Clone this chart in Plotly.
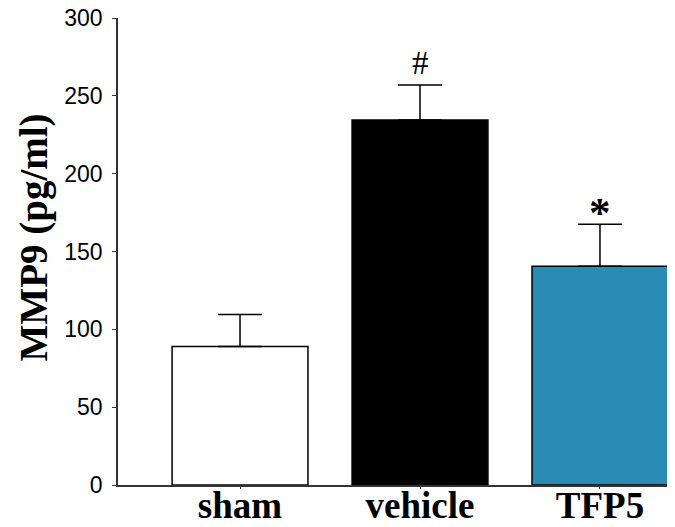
import plotly.graph_objects as go

categories = ["sham", "vehicle", "TFP5"]
means = [89, 234.5, 140.5]
sem = [20.5, 22.5, 27]
colors = ["#ffffff", "#000000", "#2a8cb4"]
marks = ["", "#", "*"]
yticks = [0, 50, 100, 150, 200, 250, 300]

fig = go.Figure()
fig.add_trace(go.Bar(
    x=list(range(len(categories))), y=means,
    width=0.755,
    marker=dict(color=colors, line=dict(color="#000000", width=1.5)),
    error_y=dict(type="data", symmetric=False, array=sem, arrayminus=[0]*len(sem),
                 color="#000000", thickness=1.5, width=22),
    showlegend=False,
))

for i, m in enumerate(marks):
    if m:
        fig.add_annotation(x=i, y=means[i] + sem[i], text=m, showarrow=False,
                           yanchor="bottom", yshift=2 if m == "#" else -14,
                           font=dict(family="Liberation Serif", size=33 if m == "#" else 43,
                                     color="#000000", weight="normal" if m == "#" else "bold"))

fig.add_annotation(xref="paper", yref="paper", x=-0.151, y=0.53, text="MMP9 (pg/ml)",
                   textangle=-90, showarrow=False, xanchor="center", yanchor="middle",
                   font=dict(family="Liberation Serif", size=39, color="#000000", weight="bold"))

# page body has an 8px default margin, so the figure is drawn 8px smaller and offset
fig.update_layout(
    width=667, height=519,
    margin=dict(l=110, r=7, t=10, b=42, autoexpand=False),
    plot_bgcolor="#ffffff", paper_bgcolor="#ffffff",
    xaxis=dict(range=[-0.678, 2.378], tickvals=list(range(len(categories))),
               ticktext=categories, showline=True, linecolor="#333333", linewidth=1.5,
               ticks="outside", ticklen=2, tickcolor="#333333", showgrid=False, zeroline=False,
               automargin=False, ticklabelstandoff=-15, ticklabeloverflow="allow",
               tickfont=dict(family="Liberation Serif", size=37, color="#000000", weight="bold")),
    yaxis=dict(range=[0, 300], tickvals=yticks, showline=True, linecolor="#333333", linewidth=1.5,
               ticks="outside", ticklen=4, tickcolor="#333333", showgrid=False, zeroline=False,
               automargin=False, ticklabelstandoff=5, ticklabeloverflow="allow",
               tickfont=dict(family="Liberation Sans", size=23, color="#000000")),
)

fig.write_html("out.html")
